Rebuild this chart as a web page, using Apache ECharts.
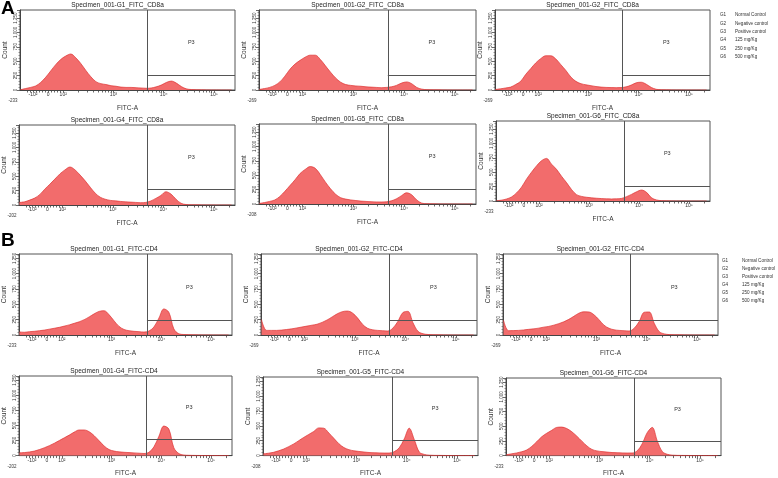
<!DOCTYPE html>
<html><head><meta charset="utf-8">
<script src="https://cdn.jsdelivr.net/npm/echarts@6/dist/echarts.min.js"></script>
<style>html,body{margin:0;padding:0;background:#fff}#c{width:778px;height:478px}</style>
</head><body><div id="c"></div>
<script>
// ---------------- DATA ----------------
// bin centres on the biexponential FITC-A display scale (in decades)
const fitcBins = [1.15,1.25,1.35,1.45,1.55,1.65,1.75,1.85,1.95,2.05,2.15,2.25,2.35,2.45,2.55,2.65,2.75,2.85,2.95,3.05,3.15,3.25,3.35,3.45,3.55,3.65,3.75,3.85,3.95,4.05,4.15,4.25,4.35,4.45,4.55,4.65,4.75,4.85,4.95,5.05,5.15,5.25,5.35];

// Panel A : FITC CD8a counts
const cd8G1 = [5,25,45,70,130,220,330,440,530,590,625,560,460,340,230,145,110,95,75,65,50,45,45,40,35,30,35,55,85,130,155,120,60,20,8,5,3,2,1,1,0,0,0];
const cd8G2 = [10,25,45,80,140,240,360,450,515,570,605,605,530,420,310,210,135,95,80,70,65,55,50,45,40,45,55,80,120,140,110,45,15,6,4,3,2,1,0,0,0,0,0];
const cd8G3 = [10,20,35,50,95,150,270,370,470,545,595,595,540,440,340,225,150,110,90,75,60,50,45,42,40,42,55,85,125,135,100,45,12,5,3,2,1,1,0,0,0,0,0];
const cd8G4 = [45,55,85,120,180,275,360,450,540,610,660,610,520,420,310,205,135,100,80,72,62,55,50,45,40,45,70,115,165,230,190,100,30,8,4,3,2,1,1,0,0,0,0];
const cd8G5 = [10,25,45,70,130,220,320,420,530,600,650,620,510,380,265,170,110,85,70,60,50,45,40,36,35,38,55,90,145,195,160,70,15,5,3,2,1,1,0,0,0,0,0];
const cd8G6 = [5,15,35,70,140,240,380,500,610,700,740,640,550,430,320,200,110,80,65,55,48,42,38,35,38,45,75,115,160,190,150,55,18,6,3,2,1,1,0,0,0,0,0];

// Panel B : FITC CD4 counts
const cd4G1 = [50,45,55,60,70,80,95,110,125,145,165,190,215,250,295,345,385,395,330,230,140,90,70,60,55,48,65,130,275,425,370,100,20,8,5,3,2,1,1,0,0,0,0];
const cd4G2 = [250,75,75,75,80,90,100,115,130,145,160,175,205,245,295,345,380,390,360,280,175,110,85,75,70,65,110,220,365,385,200,60,20,8,4,3,2,1,0,0,0,0,0];
const cd4G3 = [240,70,72,75,82,92,100,112,128,140,160,185,215,255,305,355,378,375,330,250,160,110,85,75,70,65,110,220,370,375,190,55,18,7,4,3,2,1,0,0,0,0,0];
const cd4G4 = [45,50,60,75,100,130,165,205,250,295,340,390,425,425,395,330,245,160,100,75,62,55,50,45,40,35,55,145,320,490,440,130,35,10,5,3,2,1,1,0,0,0,0];
const cd4G5 = [30,40,55,80,110,150,195,250,305,355,405,465,460,380,290,200,135,100,80,70,60,52,48,45,43,43,65,130,280,460,270,60,20,7,4,3,2,1,0,0,0,0,0];
const cd4G6 = [15,30,45,65,95,155,235,320,380,430,480,485,460,405,330,245,165,105,80,68,60,52,49,46,44,45,80,200,390,480,250,70,22,8,4,3,2,1,0,0,0,0,0];

const titlesA = ['Specimen_001-G1_FITC_CD8a','Specimen_001-G2_FITC_CD8a','Specimen_001-G2_FITC_CD8a','Specimen_001-G4_FITC_CD8a','Specimen_001-G5_FITC_CD8a','Specimen_001-G6_FITC_CD8a'];
const titlesB = ['Specimen_001-G1_FITC-CD4','Specimen_001-G2_FITC-CD4','Specimen_001-G2_FITC-CD4','Specimen_001-G4_FITC-CD4','Specimen_001-G5_FITC-CD4','Specimen_001-G6_FITC-CD4'];

// P3 gate: threshold (decades on FITC-A display scale) and count level
const gateXA = [3.68,3.68,3.68,3.69,3.69,3.71];
const gateYA = [255,255,255,265,260,260];
const gateXB = [3.71,3.69,3.68,3.70,3.71,3.69];
const gateYB = [234,234,234,264,260,245];

// x-axis tick values (FITC-A) and labels
const xTickValues = [-100, 0, 100, 1000, 10000, 100000];
const xTickLabels = ['-10²', '0', '10²', '10³', '10⁴', '10⁵'];
const xMinLabels = ['-233','-269','-269','-202','-208','-233'];
const yMaxA = 1390, yMaxB = 1320;
const yTickStep = 250;

const groupCodes = ['G1','G2','G3','G4','G5','G6'];
const groupNames = ['Normal Control','Negative control','Positive control','125 mg/Kg','250 mg/Kg','500 mg/Kg'];

// ---------------- CHART ----------------
const FONT = 'Liberation Sans, Arial, sans-serif';
function biex(v){ return v >= 100 ? Math.log10(v) : 1.7 + 0.003 * v; }
const X_MIN = 1.14, X_MAX = Math.log10(262143);
const majorPos = xTickValues.map(biex);
const minorPos = [];
for (let v = -140; v <= 80; v += 20) if (v !== -100 && v !== 0) minorPos.push(biex(v));
for (let e = 2; e <= 5; e++) for (let k = 2; k <= 9; k++) { const v = k * Math.pow(10, e); if (v < 262143) minorPos.push(Math.log10(v)); }

const panels = [
  {L:20,T:10,W:215,H:80},{L:259,T:10,W:217,H:80},{L:495,T:10,W:215,H:80},
  {L:19,T:125,W:216,H:80},{L:259,T:124,W:217,H:80},{L:496,T:121,W:214,H:80},
  {L:16,T:254,W:216,H:81},{L:261,T:254,W:216,H:81},{L:503,T:254,W:215,H:81},
  {L:16,T:376,W:216,H:82},{L:263,T:377,W:215,H:81},{L:506,T:378,W:215,H:80}
];
const countsAll = [cd8G1,cd8G2,cd8G3,cd8G4,cd8G5,cd8G6,cd4G1,cd4G2,cd4G3,cd4G4,cd4G5,cd4G6];
const titlesAll = titlesA.concat(titlesB);
const gateXAll = gateXA.concat(gateXB), gateYAll = gateYA.concat(gateYB);

const grid = [], xAxis = [], yAxis = [], series = [];
const legendStyle = (lh) => ({fontSize:4.6, lineHeight:lh, color:'#333', fontWeight:'normal', fontFamily:FONT});
const title = [
  {text:'A', left:1, top:-1, padding:0, textStyle:{fontSize:19, fontWeight:'bold', color:'#000', fontFamily:FONT}},
  {text:'B', left:1, top:231, padding:0, textStyle:{fontSize:19, fontWeight:'bold', color:'#000', fontFamily:FONT}},
  {text:groupCodes.join('\n'), left:720, top:10.8, padding:0, textStyle:legendStyle(8.4)},
  {text:groupNames.join('\n'), left:735, top:10.8, padding:0, textStyle:legendStyle(8.4)},
  {text:groupCodes.join('\n'), left:722, top:257, padding:0, textStyle:legendStyle(7.9)},
  {text:groupNames.join('\n'), left:742, top:257, padding:0, textStyle:legendStyle(7.9)}
];

panels.forEach((p, i) => {
  const yMax = i < 6 ? yMaxA : yMaxB;
  const minLab = xMinLabels[i % 6];
  grid.push({left:p.L, top:p.T, width:p.W, height:p.H, show:true, borderColor:'#555', borderWidth:1, containLabel:false});
  title.push({text:titlesAll[i], left:p.L + p.W/2 - 10, top:p.T - 8.2, textAlign:'center', padding:0,
    textStyle:{fontSize:6.5, fontWeight:'normal', color:'#222', fontFamily:FONT}});
  xAxis.push({type:'value', gridIndex:i, min:X_MIN, max:X_MAX,
    axisLine:{show:true, lineStyle:{color:'#444', width:1}}, splitLine:{show:false},
    axisTick:{show:true, customValues:majorPos.concat(minorPos), length:2.5, lineStyle:{color:'#444', width:0.8}},
    axisLabel:{show:true, customValues:[X_MIN].concat(majorPos), showMinLabel:true, fontSize:5, color:'#333', margin:2.5, fontFamily:FONT,
      formatter:(v) => {
        if (Math.abs(v - X_MIN) < 1e-6) return '{m|' + minLab + '}';
        for (let k = 0; k < majorPos.length; k++) if (Math.abs(v - majorPos[k]) < 1e-6) return xTickLabels[k];
        return '';
      },
      rich:{m:{fontSize:4.5, color:'#333', padding:[6,14,0,0], fontFamily:FONT}}},
    name:'FITC-A', nameLocation:'middle', nameGap:13, nameTextStyle:{fontSize:6.5, color:'#333', fontFamily:FONT}});
  yAxis.push({type:'value', gridIndex:i, min:0, max:yMax, interval:yTickStep,
    axisLine:{show:true, lineStyle:{color:'#444', width:1}}, splitLine:{show:false}, minorSplitLine:{show:false},
    axisTick:{show:true, length:3, lineStyle:{color:'#444', width:0.8}},
    minorTick:{show:true, splitNumber:5, length:1.5, lineStyle:{color:'#555', width:0.6}},
    axisLabel:{rotate:90, fontSize:4.5, color:'#333', margin:2, fontFamily:FONT,
      formatter:(v) => (v % yTickStep === 0 ? v.toLocaleString('en-US') : '')},
    name:'Count', nameLocation:'middle', nameGap:11, nameTextStyle:{fontSize:6.5, color:'#333', fontFamily:FONT}});
  const gx = gateXAll[i], gy = gateYAll[i];
  series.push({type:'line', xAxisIndex:i, yAxisIndex:i, silent:true, animation:false,
    data: fitcBins.map((x, j) => [x, countsAll[i][j]]),
    smooth:0.35, symbol:'none',
    lineStyle:{color:'#DE3030', width:0.7}, areaStyle:{color:'#F26C6C', opacity:1},
    markLine:{silent:true, animation:false, symbol:'none', label:{show:false},
      lineStyle:{color:'#555', width:1, type:'solid'}, emphasis:{disabled:true},
      data:[[{coord:[gx,0]},{coord:[gx,yMax]}],[{coord:[gx,gy]},{coord:[X_MAX,gy]}]]},
    markPoint:{silent:true, animation:false, symbol:'circle', symbolSize:0.1, itemStyle:{color:'transparent'},
      label:{show:true, position:'inside', formatter:'P3', fontSize:5.5, color:'#333', fontFamily:FONT},
      data:[{coord:[(gx + X_MAX)/2, (gy + yMax)/2]}]}
  });
});

const chart = echarts.init(document.getElementById('c'), null, {renderer:'canvas'});
chart.setOption({animation:false, backgroundColor:'#fff', textStyle:{fontFamily:FONT}, title, grid, xAxis, yAxis, series});
</script></body></html>
